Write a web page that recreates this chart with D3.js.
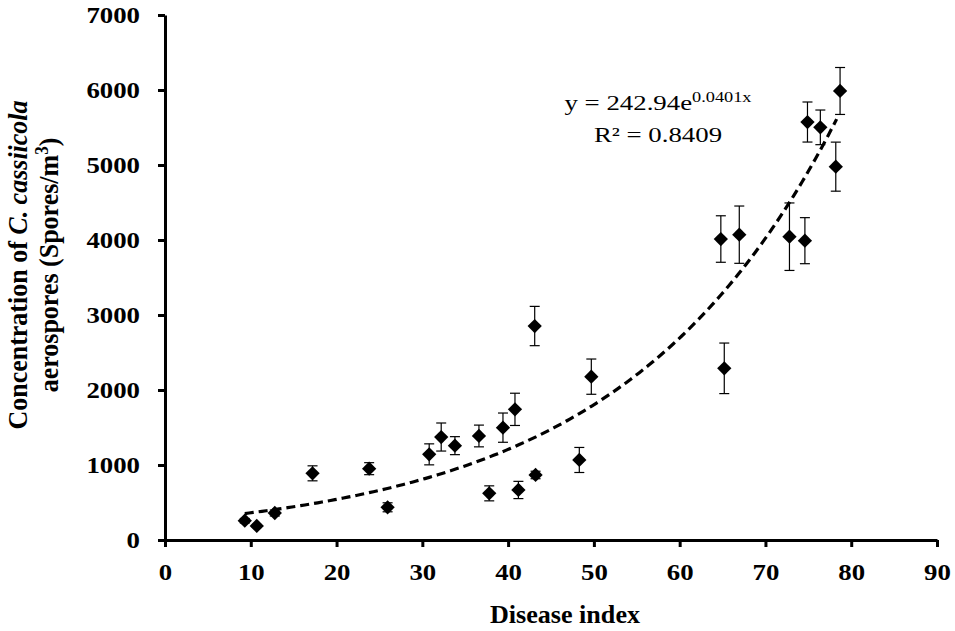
<!DOCTYPE html>
<html>
<head>
<meta charset="utf-8">
<script src="https://cdn.jsdelivr.net/npm/d3@7"></script>
<style>
  body { margin: 0; background: #fff; }
  svg { display: block; }
  text { font-family: "Times New Roman", "Liberation Serif", serif; }
</style>
</head>
<body>
<svg width="955" height="631"></svg>
<script>
// data
var diseaseIndex = [9.3, 10.7, 12.8, 17.2, 23.8, 25.95, 30.8, 32.2, 33.8, 36.6, 37.8, 39.4, 40.8, 41.2, 43.1, 43.2,
                    48.3, 49.7, 64.8, 65.2, 66.95, 72.8, 74.6, 74.9, 76.4, 78.2, 78.7];
var concentration = [257, 187, 360, 889, 951, 436, 1142, 1373, 1258, 1387, 622, 1498, 1742, 667, 2853, 867,
                     1067, 2178, 4013, 2289, 4071, 4044, 3991, 5573, 5502, 4978, 5987];
var errorBar = [30, 20, 40, 100, 80, 60, 140, 187, 120, 145, 100, 195, 215, 115, 262, 50,
                167, 235, 310, 337, 382, 450, 307, 267, 231, 327, 313];
var xTicks = [0, 10, 20, 30, 40, 50, 60, 70, 80, 90];
var yTicks = [0, 1000, 2000, 3000, 4000, 5000, 6000, 7000];
// exponential trendline y = a*e^(b*x), as printed on the chart
var fitA = 242.94, fitB = 0.0401;

var svg = d3.select("svg");
var x = d3.scaleLinear().domain([0, 90]).range([165, 937]);
var y = d3.scaleLinear().domain([0, 7000]).range([540, 15]);

// axes
var xAxis = svg.append("g")
    .attr("transform", "translate(0,540)")
    .call(d3.axisBottom(x).tickValues(xTicks).tickFormat(d3.format("d"))
      .tickSize(7).tickPadding(17).tickSizeOuter(0));
var yAxis = svg.append("g")
    .attr("transform", "translate(165,0)")
    .call(d3.axisLeft(y).tickValues(yTicks).tickFormat(d3.format("d"))
      .tickSize(7).tickPadding(18).tickSizeOuter(0));

[xAxis, yAxis].forEach(function(a) {
  a.select(".domain").attr("stroke", "#000").attr("stroke-width", 3);
  a.selectAll(".tick line").attr("stroke", "#000").attr("stroke-width", 3);
  a.selectAll(".tick text")
    .attr("fill", "#000")
    .attr("textLength", function(d) { return String(d).length * 13.4; })
    .attr("lengthAdjust", "spacingAndGlyphs")
    .style("font-family", '"Times New Roman", "Liberation Serif", serif')
    .style("font-weight", "bold")
    .style("font-size", "23px");
});
xAxis.selectAll(".tick text").attr("dy", "0.71em");

// trend line
var fitX = d3.range(diseaseIndex[0], d3.max(diseaseIndex) + 0.01, 0.5);
var line = d3.line()
    .x(function(d) { return x(d); })
    .y(function(d) { return y(fitA * Math.exp(fitB * d)); });
svg.append("path")
    .datum(fitX)
    .attr("d", line)
    .attr("fill", "none")
    .attr("stroke", "#000")
    .attr("stroke-width", 3.2)
    .attr("stroke-dasharray", "9,5");

// error bars
var pts = svg.append("g").selectAll("g")
    .data(diseaseIndex)
    .enter()
    .append("g");
pts.append("line")
    .attr("x1", function(d) { return x(d); })
    .attr("x2", function(d) { return x(d); })
    .attr("y1", function(d, i) { return y(concentration[i] + errorBar[i]); })
    .attr("y2", function(d, i) { return y(concentration[i] - errorBar[i]); })
    .attr("stroke", "#000").attr("stroke-width", 1.2);
[1, -1].forEach(function(s) {
  pts.append("line")
    .attr("x1", function(d) { return x(d) - 5; })
    .attr("x2", function(d) { return x(d) + 5; })
    .attr("y1", function(d, i) { return y(concentration[i] + s * errorBar[i]); })
    .attr("y2", function(d, i) { return y(concentration[i] + s * errorBar[i]); })
    .attr("stroke", "#000").attr("stroke-width", 1.2);
});

// diamond markers
var diamond = d3.symbol().type(d3.symbolDiamond2).size(130);
pts.append("path")
    .attr("d", diamond)
    .attr("transform", function(d, i) {
      return "translate(" + x(d) + "," + y(concentration[i]) + ")";
    })
    .attr("fill", "#000");

// equation (the figure's text is stretched a bit wide)
var eq = svg.append("text")
    .attr("transform", "translate(658,110) scale(1.22,1)")
    .attr("text-anchor", "middle")
    .style("font-size", "22px");
eq.append("tspan").text("y = 242.94e");
eq.append("tspan").attr("dy", -8).style("font-size", "15px").text("0.0401x");
svg.append("text")
    .attr("transform", "translate(658,142) scale(1.22,1)")
    .attr("text-anchor", "middle")
    .style("font-size", "22px")
    .text("R² = 0.8409");

// axis titles
svg.append("text")
    .attr("x", 565).attr("y", 623)
    .attr("text-anchor", "middle")
    .attr("textLength", 150)
    .attr("lengthAdjust", "spacingAndGlyphs")
    .style("font-weight", "bold")
    .style("font-size", "25px")
    .text("Disease index");

var t1 = svg.append("text")
    .attr("transform", "translate(27,265) rotate(-90) scale(1,1.08)")
    .attr("text-anchor", "middle")
    .style("font-weight", "bold")
    .style("font-size", "26px");
t1.append("tspan").text("Concentration of ");
t1.append("tspan").style("font-style", "italic").text("C. cassiicola");

var t2 = svg.append("text")
    .attr("transform", "translate(58,265) rotate(-90) scale(1,1.08)")
    .attr("text-anchor", "middle")
    .style("font-weight", "bold")
    .style("font-size", "26px");
t2.append("tspan").text("aerospores  (Spores/m");
t2.append("tspan").attr("dy", -9).style("font-size", "17px").text("3");
t2.append("tspan").attr("dy", 9).text(")");
</script>
</body>
</html>
